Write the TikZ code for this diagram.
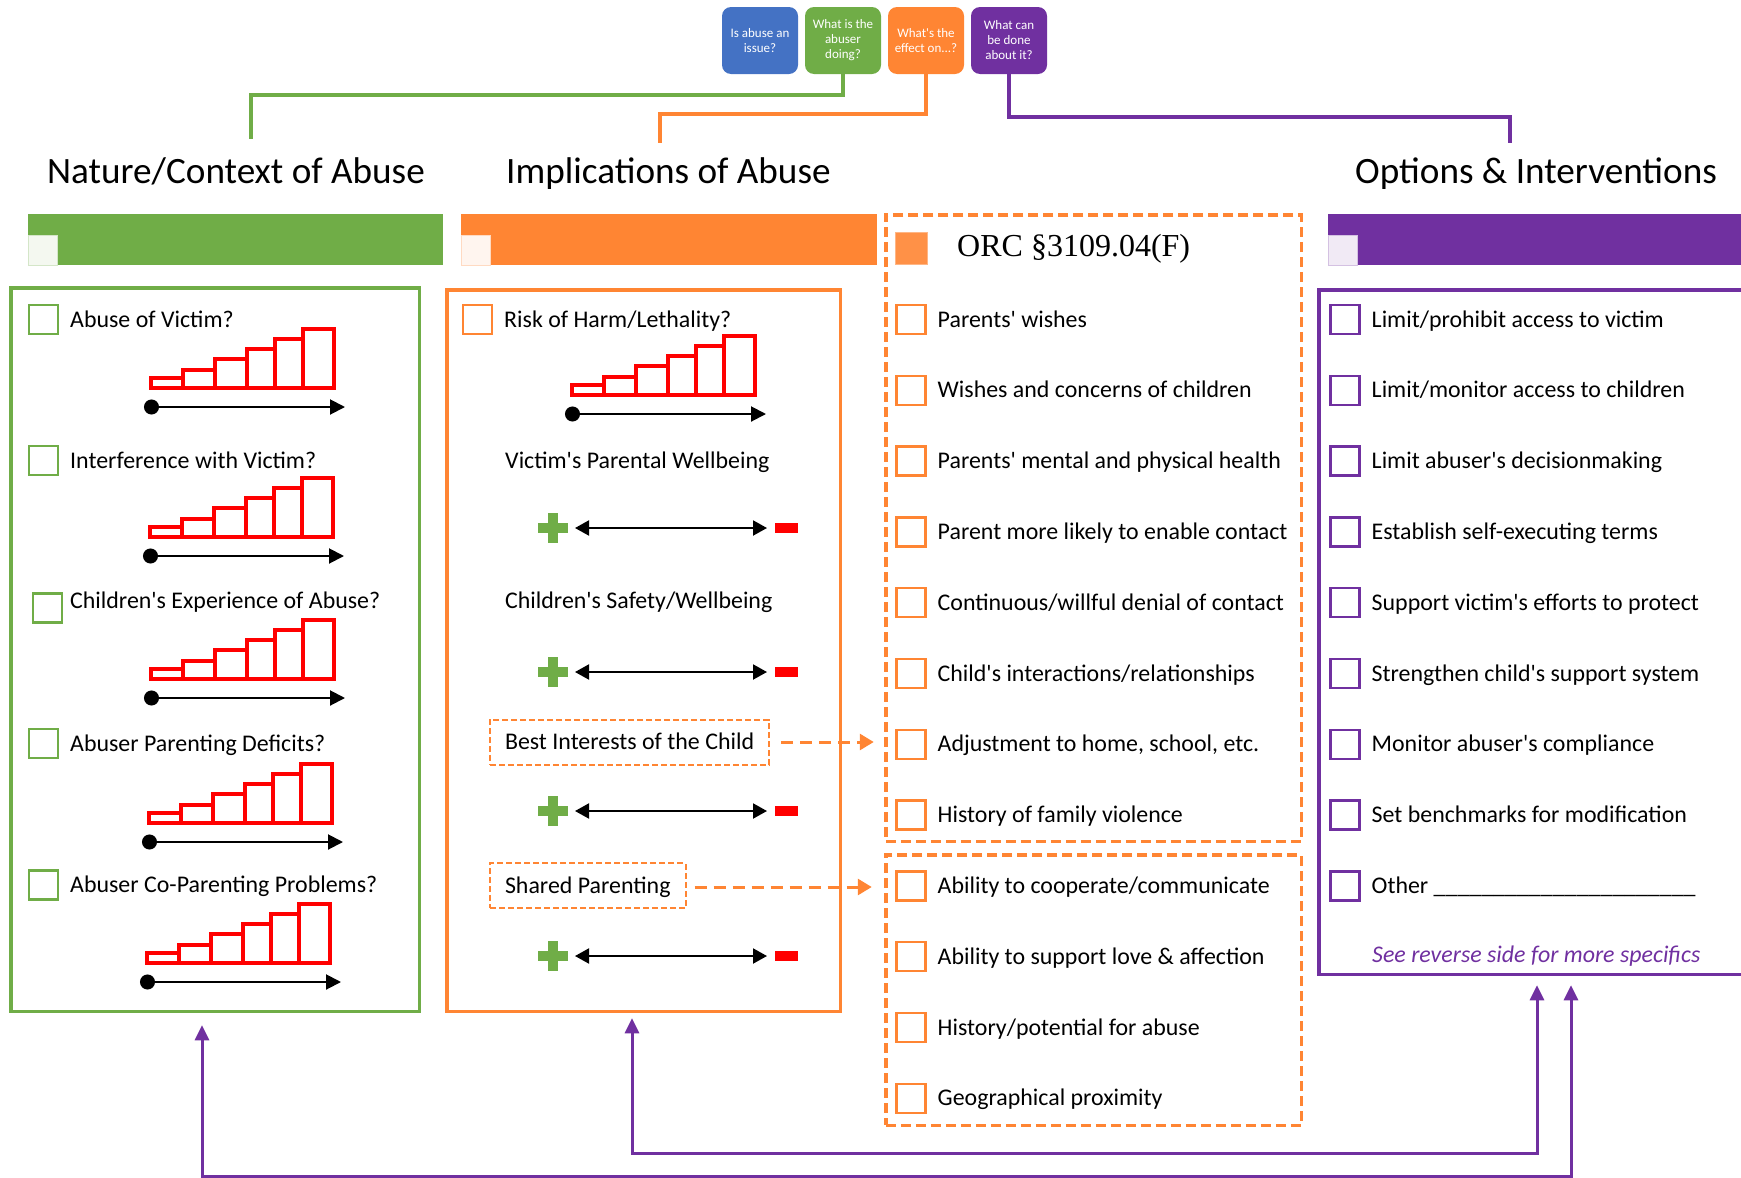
\documentclass[tikz,border=0pt]{standalone}
\usepackage{fontspec}
\setmainfont{Carlito}[Ligatures=TeXOff]
\newfontfamily\orcfont{Liberation Serif}
\usetikzlibrary{arrows.meta,positioning,calc}
\definecolor{cgreen}{HTML}{70AD47}
\definecolor{corange}{HTML}{FF8533}
\definecolor{cpurple}{HTML}{7030A0}
\definecolor{cblue}{HTML}{4472C4}
\definecolor{cred}{HTML}{FF0000}
\tikzset{
	question/.style={
		rectangle,
		rounded corners=9pt,
		minimum width=76pt,
		minimum height=67pt,
		inner sep=0pt,
		outer sep=0pt,
		text=white,
		align=center,
		font=\fontsize{13}{15}\selectfont,
	},
	heading/.style={
		anchor=west,
		inner sep=0pt,
		text height=24pt,
		text depth=0pt,
		font=\fontsize{37.2}{41}\selectfont,
	},
	bar/.style={
		rectangle,
		anchor=north west,
		minimum height=51pt,
		inner sep=0pt,
		outer sep=0pt,
	},
	barbox/.style={
		rectangle,
		anchor=north west,
		minimum width=29pt,
		minimum height=30pt,
		inner sep=0pt,
		line width=0.8pt,
	},
	panel/.style={
		rectangle,
		line width=3.5pt,
		inner sep=0pt,
		outer sep=0pt,
	},
	orcframe/.style={
		rectangle,
		draw=corange,
		line width=3.5pt,
		dash pattern=on 10pt off 5pt,
		inner sep=0pt,
		outer sep=0pt,
	},
	cbox/.style={
		rectangle,
		line width=2.5pt,
		minimum size=29pt,
		inner sep=0pt,
		outer sep=0pt,
		fill=white,
	},
	item/.style={
		inner sep=0pt,
		text height=15.3pt,
		text depth=0pt,
		font=\fontsize{23.9}{28}\selectfont,
	},
	dashbox/.style={
		rectangle,
		draw=corange,
		line width=2pt,
		dash pattern=on 6pt off 3pt,
		anchor=west,
		inner xsep=15pt,
		minimum height=45pt,
		text height=15.3pt,
		text depth=0pt,
		font=\fontsize{23.9}{28}\selectfont,
	},
	conn/.style={
		line width=3.5pt,
	},
	dasharrow/.style={
		draw=corange,
		line width=3pt,
		dash pattern=on 12pt off 7pt,
		-{Triangle[length=14pt,width=16pt]},
	},
	backarrow/.style={
		draw=cpurple,
		line width=3pt,
		{Triangle[length=15pt,width=14pt]}-{Triangle[length=15pt,width=14pt]},
	},
	stairbar/.style={
		draw=cred,
		line width=3.5pt,
	},
	scalearrow/.style={
		line width=2pt,
		{Circle[length=15pt]}-{Triangle[length=15pt,width=15pt]},
	},
	pmarrow/.style={
		line width=2pt,
		{Triangle[length=14pt,width=15pt]}-{Triangle[length=14pt,width=15pt]},
	},
	ladder/.pic={
		\draw[stairbar] (0,0) rectangle (32,-10);
		\draw[stairbar] (32,0) rectangle (64,-18);
		\draw[stairbar] (64,0) rectangle (96,-29);
		\draw[stairbar] (96,0) rectangle (124,-39);
		\draw[stairbar] (124,0) rectangle (152,-49);
		\draw[stairbar] (152,0) rectangle (183,-59);
		\draw[scalearrow] (-7,19) -- (194,19);
	},
	plusminus/.pic={
		\fill[cgreen] (-15,-5) rectangle (15,5);
		\fill[cgreen] (-5,-15) rectangle (5,15);
		\draw[pmarrow] (22,0) -- (214,0);
		\fill[cred] (222,-5) rectangle (245,5);
	},
}
\begin{document}
\begin{tikzpicture}[x=1pt,y=-1pt]
	\useasboundingbox (0,0) rectangle (1741,1178);

	\node[question, fill=cblue] (qissue) at (760,40.5) {Is abuse an\\issue?};
	\node[question, fill=cgreen, right=7pt of qissue] (qdoing) {What is the\\abuser\\doing?};
	\node[question, fill=corange, right=7pt of qdoing] (qeffect) {What's the\\effect on...?};
	\node[question, fill=cpurple, right=7pt of qeffect] (qdone) {What can\\be done\\about it?};

	\node[heading] (tnature) at (47,171) {Nature/Context of Abuse};
	\node[heading] (timpl) at (506,171) {Implications of Abuse};
	\node[heading] (toptions) at (1355,171) {Options \& Interventions};

	\draw[conn, cgreen] (qdoing.south) -- ++(0,21) -| ($(tnature.north west)+(204,-20)$);
	\draw[conn, corange] (qeffect.south) -- ++(0,40) -| ($(timpl.north west)+(154,-16)$);
	\draw[conn, cpurple] (qdone.south) -- ++(0,43) -| ($(toptions.north west)+(155,-16)$);

	\node[bar, fill=cgreen, minimum width=415pt] (bargreen) at (28,214) {};
	\node[barbox, fill=cgreen!8, draw=cgreen!30] (sqgreen) at (28,235) {};
	\node[bar, fill=corange, minimum width=416pt] (barorange) at (461,214) {};
	\node[barbox, fill=corange!8, draw=corange!30] (sqorange) at (461,235) {};
	\node[bar, fill=cpurple, minimum width=440pt] (barpurple) at (1328,214) {};
	\node[barbox, fill=cpurple!10, draw=cpurple!30] (sqpurple) at (1328,235) {};

	\node[panel, draw=cgreen, minimum width=408.5pt, minimum height=723.5pt] (natbox) at (215,649.5) {};
	\node[panel, draw=corange, minimum width=393.5pt, minimum height=721.5pt] (impbox) at (643.5,650.5) {};
	\node[panel, draw=cpurple, minimum width=451pt, minimum height=684.5pt] (optbox) at (1544.4,632) {};
	\node[orcframe, minimum width=415.5pt, minimum height=626.5pt] (orcbox) at (1093.5,528) {};
	\node[orcframe, minimum width=415.5pt, minimum height=270.5pt] (orcbox2) at (1093.5,990) {};

	\node[cbox, draw=cgreen] (nc1) at (43.5,319.5) {};
	\node[item, right=12pt of nc1] (nt1) {Abuse of Victim?};
	\node[cbox, draw=cgreen] (nc2) at (43.5,460.5) {};
	\node[item, right=12pt of nc2] (nt2) {Interference with Victim?};
	\node[cbox, draw=cgreen] (nc3) at (47.5,608) {};
	\node[item, right=12pt of nc3, xshift=-4pt, yshift=7pt] (nt3) {Children's Experience of Abuse?};
	\node[cbox, draw=cgreen] (nc4) at (43.5,743.5) {};
	\node[item, right=12pt of nc4] (nt4) {Abuser Parenting Deficits?};
	\node[cbox, draw=cgreen] (nc5) at (43.5,885) {};
	\node[item, right=12pt of nc5] (nt5) {Abuser Co-Parenting Problems?};
	\pic at (151,388) {ladder};
	\pic at (150,537) {ladder};
	\pic at (151,679) {ladder};
	\pic at (149,823) {ladder};
	\pic at (147,963) {ladder};

	\node[cbox, draw=corange] (oc1) at (477.5,319.5) {};
	\node[item, right=12pt of oc1] (ot1) {Risk of Harm/Lethality?};
	\pic at (572,395) {ladder};
	\node[item, anchor=west] (ot2) at (505,461) {Victim's Parental Wellbeing};
	\pic at (553,528) {plusminus};
	\node[item, anchor=west] (ot3) at (505,601) {Children's Safety/Wellbeing};
	\pic at (553,672) {plusminus};
	\node[dashbox] (bestint) at (489,742) {Best Interests of the Child};
	\pic at (553,811) {plusminus};
	\node[dashbox] (shared) at (489,885.5) {Shared Parenting};
	\pic at (553,956) {plusminus};

	\draw[dasharrow] ($(bestint.east)+(11,0)$) -- ($(bestint.east -| orcbox.west)+(-12,0)$);
	\draw[dasharrow] ($(shared.east)+(8,1.5)$) -- ($(shared.east -| orcbox2.west)+(-14,1.5)$);

	\node[rectangle, fill=corange!90!white, draw=corange!60, line width=1pt, minimum size=32pt, inner sep=0pt, outer sep=0pt] (orcmark) at (911,248.5) {};
	\node[inner sep=0pt, right=30pt of orcmark, font=\orcfont\fontsize{32}{36}\selectfont] (orctitle) {ORC §3109.04(F)};
	\node[cbox, draw=corange] (mc1) at (911,319.5) {};
	\node[item, right=12pt of mc1] (mt1) {Parents' wishes};
	\node[cbox, draw=corange, below=41.8pt of mc1] (mc2) {};
	\node[item, right=12pt of mc2] (mt2) {Wishes and concerns of children};
	\node[cbox, draw=corange, below=41.8pt of mc2] (mc3) {};
	\node[item, right=12pt of mc3] (mt3) {Parents' mental and physical health};
	\node[cbox, draw=corange, below=41.8pt of mc3] (mc4) {};
	\node[item, right=12pt of mc4] (mt4) {Parent more likely to enable contact};
	\node[cbox, draw=corange, below=41.8pt of mc4] (mc5) {};
	\node[item, right=12pt of mc5] (mt5) {Continuous/willful denial of contact};
	\node[cbox, draw=corange, below=41.8pt of mc5] (mc6) {};
	\node[item, right=12pt of mc6] (mt6) {Child's interactions/relationships};
	\node[cbox, draw=corange, below=41.8pt of mc6] (mc7) {};
	\node[item, right=12pt of mc7] (mt7) {Adjustment to home, school, etc.};
	\node[cbox, draw=corange, below=41.8pt of mc7] (mc8) {};
	\node[item, right=12pt of mc8] (mt8) {History of family violence};
	\node[cbox, draw=corange, below=41.8pt of mc8] (mc9) {};
	\node[item, right=12pt of mc9] (mt9) {Ability to cooperate/communicate};
	\node[cbox, draw=corange, below=41.8pt of mc9] (mc10) {};
	\node[item, right=12pt of mc10] (mt10) {Ability to support love \& affection};
	\node[cbox, draw=corange, below=41.8pt of mc10] (mc11) {};
	\node[item, right=12pt of mc11] (mt11) {History/potential for abuse};
	\node[cbox, draw=corange, below=41.8pt of mc11] (mc12) {};
	\node[item, right=12pt of mc12] (mt12) {Geographical proximity};

	\node[cbox, draw=cpurple] (pc1) at (1345,319.5) {};
	\node[item, right=12pt of pc1] (pt1) {Limit/prohibit access to victim};
	\node[cbox, draw=cpurple, below=41.8pt of pc1] (pc2) {};
	\node[item, right=12pt of pc2] (pt2) {Limit/monitor access to children};
	\node[cbox, draw=cpurple, below=41.8pt of pc2] (pc3) {};
	\node[item, right=12pt of pc3] (pt3) {Limit abuser's decisionmaking};
	\node[cbox, draw=cpurple, below=41.8pt of pc3] (pc4) {};
	\node[item, right=12pt of pc4] (pt4) {Establish self-executing terms};
	\node[cbox, draw=cpurple, below=41.8pt of pc4] (pc5) {};
	\node[item, right=12pt of pc5] (pt5) {Support victim's efforts to protect};
	\node[cbox, draw=cpurple, below=41.8pt of pc5] (pc6) {};
	\node[item, right=12pt of pc6] (pt6) {Strengthen child's support system};
	\node[cbox, draw=cpurple, below=41.8pt of pc6] (pc7) {};
	\node[item, right=12pt of pc7] (pt7) {Monitor abuser's compliance};
	\node[cbox, draw=cpurple, below=41.8pt of pc7] (pc8) {};
	\node[item, right=12pt of pc8] (pt8) {Set benchmarks for modification};
	\node[cbox, draw=cpurple, below=41.8pt of pc8] (pc9) {};
	\node[item, right=12pt of pc9] (pt9) {Other \_\_\_\_\_\_\_\_\_\_\_\_\_\_\_\_\_\_\_\_\_\_};
	\node[item, anchor=west, text=cpurple, font=\fontsize{23.9}{28}\selectfont\itshape] (reverse) at (1372,955) {See reverse side for more specifics};

	\draw[backarrow] ($(impbox.south)+(-11.5,7)$) -- ++(0,135) -| ($(optbox.south)+(-7.4,11)$);
	\draw[backarrow] ($(natbox.south)+(-13,14)$) -- ++(0,151) -| ($(optbox.south)+(26.6,11)$);
\end{tikzpicture}
\end{document}
